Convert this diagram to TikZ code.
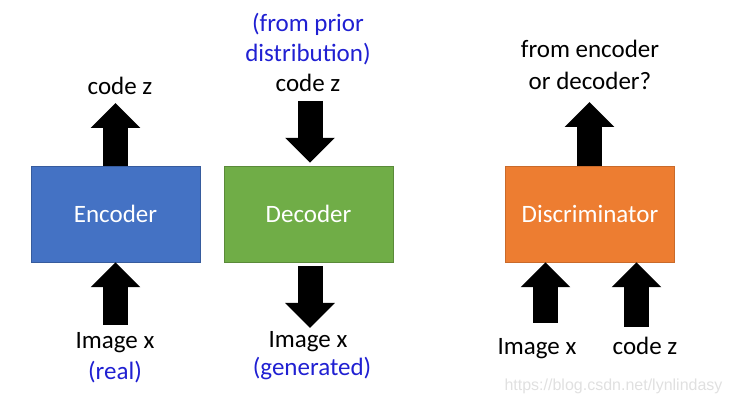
\documentclass[tikz,border=0pt]{standalone}
\usepackage{fontspec}
\setmainfont{Carlito}
\newfontfamily\wmfont{Liberation Sans}
\usetikzlibrary{arrows.meta}
\definecolor{encblue}{HTML}{4472C4}
\definecolor{decgreen}{HTML}{70AD47}
\definecolor{discorange}{HTML}{ED7D31}
\definecolor{noteblue}{HTML}{2020D2}

\begin{document}
\begin{tikzpicture}[x=1pt,y=1pt,
  box/.style={minimum width=169pt, minimum height=96pt, inner sep=0pt,
              text=white, font=\fontsize{25}{30}\selectfont},
  lbl/.style={anchor=base, inner sep=0pt, font=\fontsize{25}{30}\selectfont},
  note/.style={lbl, text=noteblue},
  blockarrow/.style={line width=25pt, -{Triangle[width=48pt,length=25pt]}}]
\useasboundingbox (0,0) rectangle (731,404);

% Encoder
\node[box, fill=encblue, draw=encblue!80!black] (enc) at (115.5,190) {Encoder};
\coordinate (encOut) at (115.5,301);
\coordinate (encIn) at (115.5,79);
\draw[blockarrow] (enc.north) -- (encOut);
\draw[blockarrow] (encIn) -- (enc.south);
\node[lbl] (encCode) at (120,309) {code z};
\node[lbl] (encImg) at (115,55) {Image x};
\node[note] (encReal) at (115,24) {(real)};

% Decoder
\node[box, fill=decgreen, draw=decgreen!80!black] (dec) at (308.5,190) {Decoder};
\coordinate (decIn) at (310,303);
\coordinate (decOut) at (310,76);
\draw[blockarrow, shorten >=3pt] (decIn) -- (decIn |- dec.north);
\draw[blockarrow, shorten <=4pt] (decIn |- dec.south) -- (decOut);
\node[note] (decPrior1) at (308,372) {(from prior};
\node[note] (decPrior2) at (308,342) {distribution)};
\node[lbl] (decCode) at (308,312) {code z};
\node[lbl] (decImg) at (308,56) {Image x};
\node[note] (decGen) at (312,28) {(generated)};

% Discriminator
\node[box, fill=discorange, draw=discorange!85!black] (disc) at (590,190) {Discriminator};
\coordinate (discOut) at (589.5,302);
\coordinate (discInA) at (545.5,81);
\coordinate (discInB) at (636.5,77);
\draw[blockarrow] (discOut |- disc.north) -- (discOut);
\draw[blockarrow] (discInA) -- (discInA |- disc.south);
\draw[blockarrow] (discInB) -- (discInB |- disc.south);
\node[lbl] (discQ1) at (590,346) {from encoder};
\node[lbl] (discQ2) at (590,314) {or decoder?};
\node[lbl] (discImg) at (537,49) {Image x};
\node[lbl] (discCode) at (645,49) {code z};

% watermark
\node[anchor=base, inner sep=0pt, text=black!12, font=\wmfont\fontsize{16}{18}\selectfont] (mark) at (613.5,13) {https://blog.csdn.net/lynlindasy};
\end{tikzpicture}
\end{document}
